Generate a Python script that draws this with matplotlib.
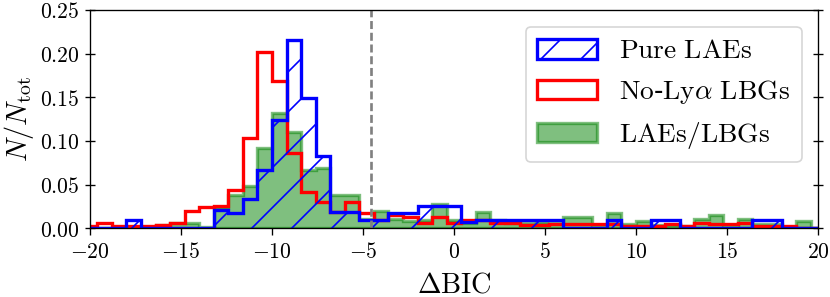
import numpy as np
import matplotlib
matplotlib.use("Agg")
import matplotlib.pyplot as plt
from matplotlib.ticker import FuncFormatter

plt.rcParams['mathtext.fontset'] = 'cm'
plt.rcParams['font.family'] = ['DejaVu Serif']

# ---- data -------------------------------------------------------------
bin_edges = np.linspace(-20.4, 20.4, 52)
bin_centers = 0.5 * (bin_edges[:-1] + bin_edges[1:])

pure_laes = [0, 0, 0, 0.0095, 0, 0, 0, 0, 0, 0.021,
             0.017, 0.033, 0.067, 0.124, 0.2155, 0.149, 0.083, 0.019, 0.019, 0.0095,
             0.0095, 0.017, 0.017, 0.025, 0.025, 0.025, 0.0076, 0.009, 0.009, 0.009,
             0.009, 0.009, 0.009, 0, 0, 0, 0.0095, 0, 0, 0.0095,
             0.0095, 0, 0, 0, 0, 0, 0.0095, 0.0095, 0, 0, 0]

no_lya_lbgs = [0.0026, 0.0057, 0.0026, 0.0026, 0.0026, 0.004, 0.006, 0.020, 0.024, 0.026,
               0.044, 0.103, 0.202, 0.169, 0.086, 0.042, 0.030, 0.019, 0.030, 0.017,
               0.009, 0.015, 0.013, 0.0065, 0.013, 0.0065, 0.009, 0.009, 0.006, 0.006,
               0.004, 0.004, 0.0045, 0.0045, 0.0045, 0.0046, 0.0046, 0.003, 0.003, 0.003,
               0.0046, 0.003, 0.0057, 0.005, 0.0046, 0.0057, 0.003, 0.003, 0.0026, 0, 0]

laes_lbgs = [0, 0, 0, 0, 0, 0.004, 0.0057, 0.0057, 0.002, 0.024,
             0.038, 0.048, 0.0916, 0.1317, 0.110, 0.067, 0.069, 0.038, 0.038, 0.011,
             0.020, 0.011, 0.008, 0.009, 0.028, 0.009, 0.006, 0.019, 0.0095, 0.006,
             0.006, 0.007, 0.006, 0.0133, 0.0133, 0.003, 0.018, 0.005, 0.0088, 0.004,
             0.004, 0.003, 0.0103, 0.0152, 0.003, 0.0103, 0.005, 0.005, 0, 0.0084, 0]

labels = [r'$\mathrm{Pure\ LAEs}$', r'$\mathrm{No}$-$\mathrm{Ly}\alpha\ \mathrm{LBGs}$',
          r'$\mathrm{LAEs/LBGs}$']
bic_cut = -4.55

xticks = [-20, -15, -10, -5, 0, 5, 10, 15, 20]
yticks = [0.00, 0.05, 0.10, 0.15, 0.20, 0.25]

# ---- plot -------------------------------------------------------------
DPI = 120
fig = plt.figure(figsize=(830 / DPI, 297 / DPI), dpi=DPI)
ax = fig.add_axes([90 / 830, 1 - 228.3 / 297, 728 / 830, 218.3 / 297])

_, _, p_red = ax.hist(bin_centers, bins=bin_edges, weights=no_lya_lbgs, histtype='step',
                      color='red', lw=2.0)
_, _, p_blue = ax.hist(bin_centers, bins=bin_edges, weights=pure_laes, histtype='step',
                       color='blue', lw=2.0, hatch='/')
_, _, p_green = ax.hist(bin_centers, bins=bin_edges, weights=laes_lbgs, histtype='stepfilled',
                        facecolor='green', edgecolor='green', alpha=0.5, lw=2.0)

ax.axvline(bic_cut, color='gray', ls=(0, (3.0, 1.4)), lw=1.6)

ax.set_xlim(-20, 20)
ax.set_ylim(0, 0.25)
ax.set_xticks(xticks)
ax.set_yticks(yticks)
ax.xaxis.set_major_formatter(FuncFormatter(lambda v, p: r'$%d$' % v))
ax.yaxis.set_major_formatter(FuncFormatter(lambda v, p: r'$%.2f$' % v))
ax.tick_params(axis='both', labelsize=13)
ax.tick_params(axis='y', which='major', direction='inout', length=6, right=True)
ax.tick_params(axis='x', which='major', direction='out', length=4)

ax.set_xlabel(r'$\Delta\mathrm{BIC}$', fontsize=17, labelpad=5)
ax.set_ylabel(r'$N/N_{\rm tot}$', fontsize=17, labelpad=2)

leg = ax.legend([p_blue[0], p_red[0], p_green[0]], labels, loc='upper right',
                fontsize=16.5, handlelength=2.2, borderaxespad=0.6)

fig.savefig('out.png', dpi=DPI)
